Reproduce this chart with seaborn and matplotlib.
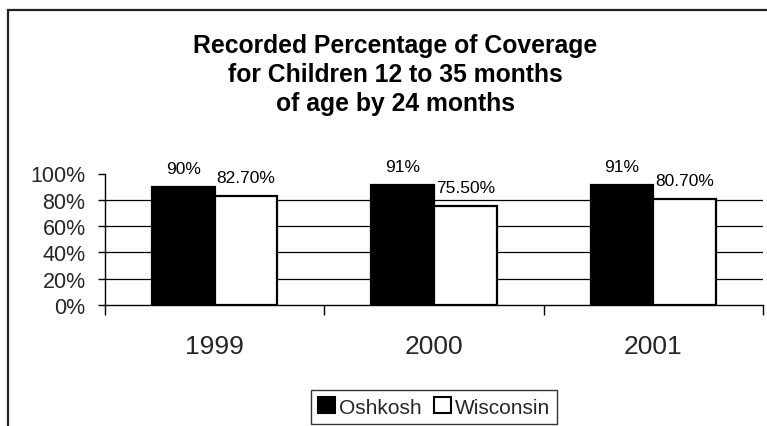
import matplotlib
matplotlib.use("Agg")
import matplotlib.pyplot as plt
import matplotlib.patches as mpatches
import seaborn as sns
import pandas as pd
from matplotlib.ticker import FixedLocator, PercentFormatter

# Coverage data
years = ["1999", "2000", "2001"]
oshkosh = [0.90, 0.91, 0.91]
wisconsin = [0.827, 0.755, 0.807]
series_names = ["Oshkosh", "Wisconsin"]
y_ticks = [0.0, 0.2, 0.4, 0.6, 0.8, 1.0]

df = pd.DataFrame({
    "Year": years * 2,
    "Series": [series_names[0]] * len(years) + [series_names[1]] * len(years),
    "Coverage": oshkosh + wisconsin,
})

sns.set_theme(style="white")
plt.rcParams["font.family"] = ["Liberation Sans", "DejaVu Sans"]

fig = plt.figure(figsize=(7.67, 4.27), dpi=100)
ax = fig.add_axes([105 / 767, 1 - 306 / 427, 658 / 767, 131.5 / 427])

sns.barplot(
    data=df, x="Year", y="Coverage", hue="Series",
    palette={"Oshkosh": "black", "Wisconsin": "white"},
    edgecolor="black", linewidth=1.6, width=0.57,
    legend=False, ax=ax, zorder=3,
)

ax.set_xlim(-0.5, 2.5)
ax.set_ylim(0, 1)
ax.set_yticks(y_ticks)
ax.yaxis.set_major_formatter(PercentFormatter(1.0, decimals=0))
ax.set_xlabel("")
ax.set_ylabel("")

# horizontal gridlines at the inner ticks only
for t in y_ticks[1:-1]:
    ax.axhline(t, color="black", lw=0.9, zorder=1)

for s in ["top", "right"]:
    ax.spines[s].set_visible(False)
for s in ["left", "bottom"]:
    ax.spines[s].set_color("black")
    ax.spines[s].set_linewidth(1.0)

ax.tick_params(axis="y", which="major", direction="out", length=5, width=1,
               color="black", labelsize=15.5, pad=9, left=True)
ax.tick_params(axis="x", which="major", length=0, labelsize=19, pad=21)
ax.xaxis.set_minor_locator(FixedLocator([-0.5, 0.5, 1.5, 2.5]))
ax.tick_params(axis="x", which="minor", direction="out", length=7, width=1,
               color="black", bottom=True)

# value labels above the bars
fmts = ["{:.0%}", "{:.2%}"]
for cont, fmt in zip(ax.containers, fmts):
    labels = [fmt.format(b.get_height()) for b in cont]
    ax.bar_label(cont, labels=labels, padding=8, fontsize=12.5, color="black")

fig.text(395 / 767, 1 - 75 / 427,
         "Recorded Percentage of Coverage\nfor Children 12 to 35 months\nof age by 24 months",
         ha="center", va="center", fontsize=17.8, fontweight="bold",
         linespacing=1.27, color="black")

handles = [mpatches.Patch(facecolor="black", edgecolor="black", lw=1.5),
           mpatches.Patch(facecolor="white", edgecolor="black", lw=1.5)]
leg = fig.legend(handles, series_names, loc="center",
                 bbox_to_anchor=(434 / 767, 1 - 408 / 427),
                 ncol=2, fontsize=15, frameon=True, fancybox=False,
                 handlelength=0.8, handleheight=0.8, handletextpad=0.2,
                 columnspacing=0.6, borderpad=0.35, borderaxespad=0)
leg.get_frame().set_edgecolor("black")
leg.get_frame().set_linewidth(1.0)

# chart border
fig.add_artist(mpatches.Rectangle((8 / 767, -0.1), 1.2, 0.1 + (1 - 11 / 427),
                                  transform=fig.transFigure, fill=False,
                                  edgecolor="#222222", lw=1.6))

fig.savefig("out.png", dpi=100)
